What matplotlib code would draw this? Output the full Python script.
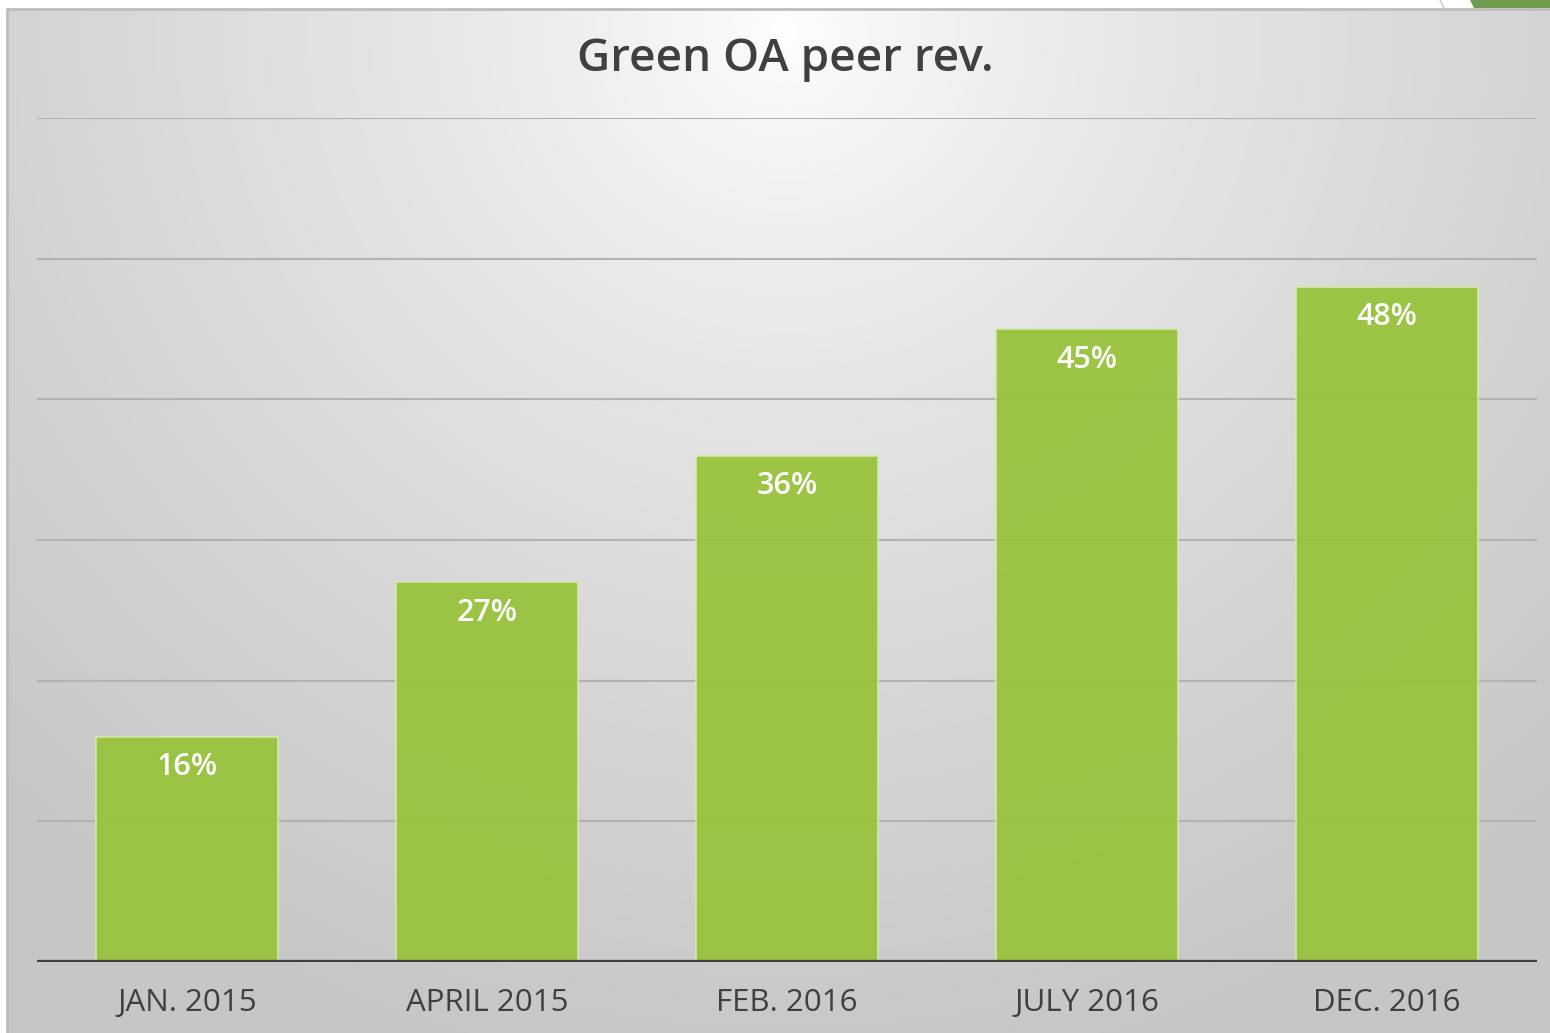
import numpy as np
import matplotlib
matplotlib.use("Agg")
import matplotlib.pyplot as plt
from matplotlib.patches import Polygon

categories = ["JAN. 2015", "APRIL 2015", "FEB. 2016", "JULY 2016", "DEC. 2016"]
values = [16, 27, 36, 45, 48]
grid_levels = [10, 20, 30, 40, 50, 60]
title = "Green OA peer rev."

W, H = 1550, 1033
plt.rcParams['font.family'] = ['Open Sans', 'DejaVu Sans']

fig = plt.figure(figsize=(W / 100, H / 100), dpi=100)
fig.patch.set_facecolor('white')

# fond du panneau : degradé radial blanc -> gris
px_left, px_top = 7, 9
bg = fig.add_axes([px_left / W, 0, 1 - px_left / W, (H - px_top) / H])
bg.set_axis_off()
xs = np.linspace(px_left, W, 400)
ys = np.linspace(px_top, H, 300)
X, Y = np.meshgrid(xs, ys)
d = np.sqrt(((X - 785) / 1100) ** 2 + ((Y - 30) / 1050) ** 2)
shade = 1.0 - (1.0 - 0.78) * np.clip(d, 0, 1) ** 0.75
img = np.dstack([shade, shade, shade])
bg.imshow(img, extent=[0, 1, 0, 1], aspect='auto', origin='upper', interpolation='bilinear')
bg.set_xlim(0, 1)
bg.set_ylim(0, 1)
bg.plot([0, 0, 1], [0, 1, 1], color='#bdbdbd', lw=2, transform=bg.transAxes, clip_on=False)

# décor en haut à droite
fig.patches.append(Polygon([[1470 / W, 1], [1 + 0.01, 1], [1 + 0.01, 1 - 8 / H], [1474 / W, 1 - 8 / H]],
                           closed=True, transform=fig.transFigure, facecolor='#6e9c4c', edgecolor='none'))
fig.lines.append(plt.Line2D([1440 / W, 1444 / W], [1, 1 - 8 / H], transform=fig.transFigure,
                            color='#c8c8c8', lw=1))

# graphique
ax_l, ax_r = 37, 1537
ax_top, ax_bot = 118, 962
ax = fig.add_axes([ax_l / W, (H - ax_bot) / H, (ax_r - ax_l) / W, (ax_bot - ax_top) / H])
ax.patch.set_alpha(0)

x = np.arange(len(categories))
for g in grid_levels:
    ax.axhline(g, color='#b2b2b2', lw=1.5, zorder=1)
bars = ax.bar(x, values, width=0.605, color='#97c33a', alpha=0.93,
              edgecolor='#d6eab0', linewidth=1.2, zorder=2)
ax.axhline(0, color='#3f3f3f', lw=3.8, zorder=3)

for xi, v in zip(x, values):
    ax.annotate(f"{v}%", (xi, v), xytext=(0, -22), textcoords='offset points',
                ha='center', va='center', color='white', fontsize=22, fontweight='semibold', zorder=4)

ax.set_xlim(-0.5, len(categories) - 0.5)
ax.set_ylim(0, 60)
ax.set_yticks([])
ax.set_xticks(x)
ax.set_xticklabels(categories, fontsize=22.5, color='#404040')
ax.tick_params(axis='x', length=0, pad=19)
for s in ax.spines.values():
    s.set_visible(False)

fig.text(785 / W, 1 - 60 / H, title, ha='center', va='center', fontsize=33,
         fontweight='semibold', color='#404040')

fig.savefig("out.png", dpi=100)
